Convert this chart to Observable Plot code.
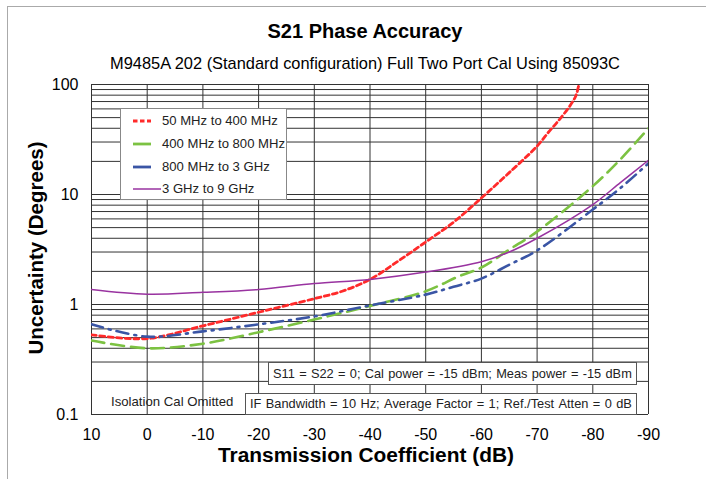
<!DOCTYPE html>
<html><head><meta charset="utf-8">
<script src="https://cdn.jsdelivr.net/npm/d3@7"></script>
<script src="https://cdn.jsdelivr.net/npm/@observablehq/plot@0.6"></script>
<style>
body{margin:0;background:#fff;font-family:"Liberation Sans",Arial,sans-serif;color:#000;}
#wrap{position:relative;width:706px;height:479px;overflow:hidden;}
#wrap > svg{position:absolute;left:0;top:0;}
.abs{position:absolute;white-space:nowrap;}
.box{position:absolute;box-sizing:border-box;background:#fff;border:1px solid #555;font-size:12.8px;}
.words{position:absolute;left:4px;right:4px;display:flex;justify-content:space-between;white-space:nowrap;line-height:17px;color:#222;}
.row{position:absolute;left:0;height:16px;width:100%;}
.row svg{position:absolute;left:12px;top:0;}
.row span{position:absolute;left:41px;top:0;line-height:16px;font-size:13.1px;color:#222;}
</style></head><body>
<div id="wrap"></div>
<script>
// ---- data ----
const xTicks = [10, 0, -10, -20, -30, -40, -50, -60, -70, -80, -90];
const yTicks = [0.1, 1, 10, 100];
const yGrid = [0.1,0.2,0.3,0.4,0.5,0.6,0.7,0.8,0.9,1,2,3,4,5,6,7,8,9,10,20,30,40,50,60,70,80,90,100];

const seriesNames = ["50 MHz to 400 MHz", "400 MHz to 800 MHz", "800 MHz to 3 GHz", "3 GHz to 9 GHz"];

const redX = [10, 0, -10, -20, -30, -35, -40, -45, -50, -55, -60, -65, -70, -72, -74, -76, -77, -77.5];
const redY = [0.53, 0.49, 0.64, 0.85, 1.13, 1.32, 1.69, 2.47, 3.7, 5.6, 9.3, 15.8, 27.5, 36.6, 48, 65, 80, 100];

const greenX = [10, 0, -10, -20, -30, -40, -50, -56, -60, -65, -70, -80, -85, -90];
const greenY = [0.47, 0.40, 0.44, 0.56, 0.73, 0.97, 1.32, 1.81, 2.17, 3.16, 4.6, 11.9, 21, 40];

const blueX = [10, 0, -10, -20, -30, -40, -50, -55, -60, -65, -70, -80, -85, -90];
const blueY = [0.66, 0.51, 0.57, 0.66, 0.78, 0.98, 1.23, 1.45, 1.72, 2.3, 3.1, 7.3, 11.5, 19.2];

const purpleX = [10, 0, -10, -20, -30, -40, -50, -60, -65, -70, -80, -85, -90];
const purpleY = [1.37, 1.24, 1.29, 1.37, 1.55, 1.69, 1.97, 2.45, 3.0, 4.0, 8.1, 12.9, 20.5];

const note1 = "S11 = S22 = 0; Cal power = -15 dBm; Meas power = -15 dBm";
const note2 = "IF Bandwidth = 10 Hz; Average Factor = 1; Ref./Test Atten = 0 dB";
const note3 = "Isolation Cal Omitted";

const colors = ["#ff2a2a", "#7cc242", "#3a55a5", "#9933a0"];
const dashes = ["5,3.5", "13,7", "12,6,2,6", null];
const widths = [2.8, 2.6, 2.6, 1.5];

const toRows = (xs, ys) => xs.map((x, i) => ({x, y: ys[i]}));
const seriesData = [toRows(redX, redY), toRows(greenX, greenY), toRows(blueX, blueY), toRows(purpleX, purpleY)];

const lineMarks = seriesData.map((d, i) => Plot.line(d, {
  x: "x", y: "y", stroke: colors[i], strokeWidth: widths[i],
  strokeDasharray: dashes[i] || undefined, curve: "catmull-rom", clip: true
}));

const chart = Plot.plot({
  width: 706, height: 479,
  marginLeft: 91, marginRight: 58, marginTop: 84, marginBottom: 65,
  x: {domain: [10, -90]},
  y: {type: "log", domain: [0.1, 100]},
  style: {fontFamily: "'Liberation Sans', Arial, sans-serif", fontSize: "16px", color: "#000", background: "transparent"},
  marks: [
    Plot.ruleY(yGrid, {stroke: "#333", strokeWidth: 1}),
    Plot.ruleX(xTicks, {stroke: "#333", strokeWidth: 1}),
    ...lineMarks,
    Plot.axisX({ticks: xTicks, tickSize: 0, tickPadding: 14, tickFormat: d => String(d), label: null}),
    Plot.axisY({ticks: yTicks, tickSize: 0, tickPadding: 13, tickFormat: d => String(d), label: null})
  ]
});

const wrap = document.getElementById("wrap");
wrap.appendChild(chart);

function addDiv(html, css, cls) {
  const el = document.createElement("div");
  el.className = cls || "abs";
  el.innerHTML = html;
  Object.assign(el.style, css);
  wrap.appendChild(el);
  return el;
}
const wordsHtml = (s, top) => `<div class="words" style="top:${top}px">` + s.split(" ").map(w => `<span>${w}</span>`).join("") + `</div>`;

// outer frame (left and top)
addDiv("", {left: "7px", top: "6px", width: "720px", height: "490px", borderLeft: "1px solid #aaa", borderTop: "1px solid #aaa", boxSizing: "border-box"});

// titles
addDiv("S21 Phase Accuracy", {left: "12px", width: "706px", textAlign: "center", top: "20px", lineHeight: "22px", fontSize: "20px", fontWeight: "bold"});
addDiv("M9485A 202 (Standard configuration) Full Two Port Cal Using 85093C", {left: "12px", width: "706px", textAlign: "center", top: "54px", lineHeight: "18px", fontSize: "16.4px"});

// axis labels
addDiv("Transmission Coefficient (dB)", {left: "16px", width: "700px", textAlign: "center", top: "444px", lineHeight: "22px", fontSize: "20.9px", fontWeight: "bold"});
addDiv("Uncertainty (Degrees)", {left: "36px", top: "248px", lineHeight: "22px", fontSize: "20.5px", fontWeight: "bold", transform: "translate(-50%,-50%) rotate(-90deg)"});

// legend
const legend = addDiv("", {left: "120px", top: "108px", width: "167px", height: "92px", border: "1px solid #888"}, "box");
const rowTops = [4, 27, 50, 72];
seriesNames.forEach((name, i) => {
  const row = document.createElement("div");
  row.className = "row";
  row.style.top = rowTops[i] + "px";
  const len = i === 3 ? 28 : 18;
  const w = i === 3 ? 1.5 : 2.8;
  row.innerHTML = `<svg width="30" height="16"><line x1="0" x2="${len}" y1="8" y2="8" stroke="${colors[i]}" stroke-width="${w}" ${i === 0 ? 'stroke-dasharray="4.5,2.5"' : ''}/></svg><span>${name}</span>`;
  legend.appendChild(row);
});

// annotations
addDiv(wordsHtml(note1, 2), {left: "268px", top: "362px", width: "369px", height: "23px"}, "box");
addDiv(wordsHtml(note2, 1), {left: "245px", top: "393px", width: "392px", height: "22px"}, "box");
addDiv(note3, {left: "111px", top: "394px", lineHeight: "16px", fontSize: "13.2px", color: "#222"});
</script>
</body></html>
